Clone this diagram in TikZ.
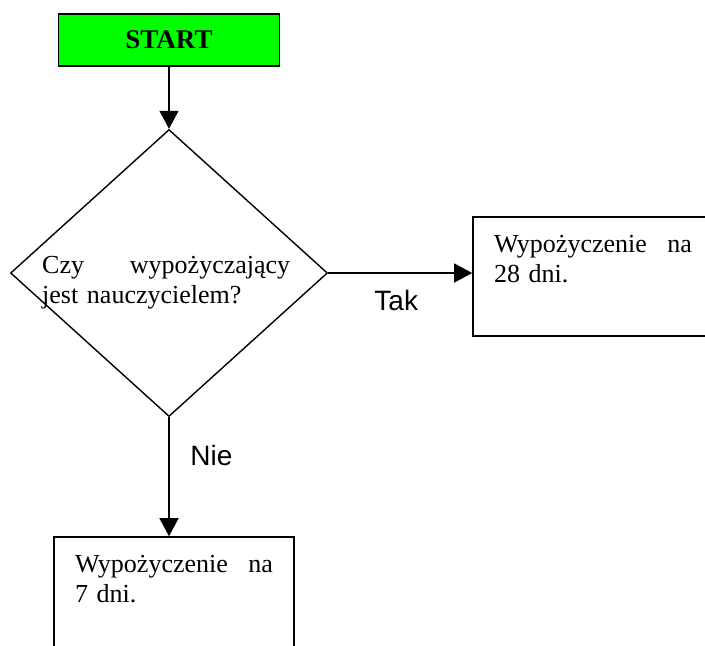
\documentclass[tikz,border=0pt]{standalone}
\usepackage{fontspec}
\setmainfont{Liberation Serif}
\setsansfont{Liberation Sans}
\usepackage{tikz}
\usetikzlibrary{shapes.geometric,arrows.meta,positioning,calc}
\definecolor{startgreen}{RGB}{0,255,0}
\newcommand{\tekstfont}{\fontsize{13}{15}\selectfont}
\tikzstyle{poczatek}=[draw,line width=0.8pt,fill=startgreen,minimum width=110.5pt,minimum height=26pt,inner sep=0pt,font=\fontsize{13.5}{15}\selectfont\bfseries]
\tikzstyle{decyzja}=[draw,diamond,line width=0.7pt,minimum width=158.5pt,minimum height=143.5pt,inner sep=0pt]
\tikzstyle{blok}=[draw,rectangle,line width=0.8pt,text width=99pt,align=left,inner xsep=10.5pt,inner ysep=0pt,text height=17.5pt,text depth=42pt,font=\tekstfont]
\tikzstyle{opis}=[font=\sffamily\fontsize{14}{16}\selectfont]

\begin{document}
\begin{tikzpicture}[x=0.5pt,y=-0.5pt,>={Triangle[length=9pt,width=9.5pt]},line width=0.7pt]
\useasboundingbox (0,0) rectangle (705,645);
\clip (0,0) rectangle (705,645);
\node [poczatek] (start) at (169,40) {START};
\node [decyzja] [below=31pt of start] (pytanie) {};
\node [text width=124pt,inner sep=0pt,align=left,anchor=base west,font=\tekstfont] (pytanie-tekst) at ([xshift=-63.75pt]pytanie.center) {Czy\hfill wypożyczający\\jest nauczycielem?};
\node [blok] [right=72pt of pytanie,yshift=-1.75pt] (dni28) {Wypożyczenie\hfill na\\28 dni.};
\node [blok] [below=59.5pt of pytanie,xshift=2.5pt] (dni7) {Wypożyczenie\hfill na\\7 dni.};
\draw [->] (start) -- (pytanie);
\draw [->] (pytanie.east) -- node [opis,below=5pt,xshift=-2pt] (tak) {Tak} (pytanie.east -| dni28.west);
\draw [->] (pytanie.south) -- node [opis,pos=0.32,right=7pt] (nie) {Nie} (pytanie.south |- dni7.north);
\end{tikzpicture}
\end{document}
